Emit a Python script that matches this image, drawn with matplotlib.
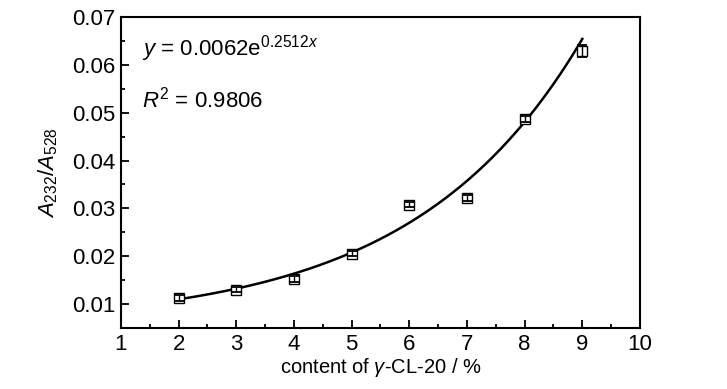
import numpy as np
import matplotlib
matplotlib.use("Agg")
import matplotlib.pyplot as plt
from matplotlib.ticker import MultipleLocator

FONT = 'Liberation Sans'
plt.rcParams['font.family'] = [FONT, 'DejaVu Sans']
plt.rcParams['mathtext.fontset'] = 'custom'
plt.rcParams['mathtext.rm'] = FONT
plt.rcParams['mathtext.it'] = FONT + ':italic'
plt.rcParams['mathtext.bf'] = FONT + ':bold'

# data
content = [2, 3, 4, 5, 6, 7, 8, 9]
ratio = [0.0113, 0.0130, 0.0153, 0.0205, 0.0308, 0.0322, 0.0487, 0.0629]
ratio_err = [0.0006, 0.0005, 0.0006, 0.0005, 0.0006, 0.0006, 0.0006, 0.0013]

# fitted curve parameters (as drawn)
fit_y0 = 0.00553
fit_A = 0.002758
fit_b = 0.342

fig = plt.figure(figsize=(7.27, 3.89), dpi=100)
ax = fig.add_axes([0.1664, 0.1568, 0.7139, 0.7995])

xf = np.linspace(min(content), max(content), 200)
ax.plot(xf, fit_y0 + fit_A * np.exp(fit_b * xf), color='black', lw=1.8, zorder=2)

ax.plot(content, ratio, 's', ms=7, mfc='white', mec='black', mew=1.0, zorder=3)
ax.errorbar(content, ratio, yerr=ratio_err, fmt='none', ecolor='black',
            elinewidth=1.0, capsize=3.5, capthick=1.3, zorder=4)

ax.set_xlim(1, 10)
ax.set_ylim(0.005, 0.07)
ax.xaxis.set_major_locator(MultipleLocator(1))
ax.xaxis.set_minor_locator(MultipleLocator(0.5))
ax.yaxis.set_minor_locator(MultipleLocator(0.005))
ax.set_yticks([0.01, 0.02, 0.03, 0.04, 0.05, 0.06, 0.07])
ax.set_yticklabels(['0.01', '0.02', '0.03', '0.04', '0.05', '0.06', '0.07'])

ax.tick_params(which='both', direction='in', top=False, right=False, labelsize=16, width=1.3, pad=4)
ax.tick_params(which='major', length=6)
ax.tick_params(which='minor', length=3)
for s in ax.spines.values():
    s.set_linewidth(1.5)

ax.set_xlabel(r'content of $\mathit{\gamma}$-CL-20 / %', fontsize=14.5, labelpad=1)
ax.set_ylabel(r'$\mathit{A}_{232}/\mathit{A}_{528}$', fontsize=16, labelpad=9)

ax.text(0.04, 0.875, r'$\mathit{y}$ = 0.0062e$^{0.2512\mathit{x}}$', transform=ax.transAxes,
        fontsize=16, ha='left', va='baseline')
ax.text(0.04, 0.71, r'$\mathit{R}^2$ = 0.9806', transform=ax.transAxes,
        fontsize=16, ha='left', va='baseline')

fig.savefig('out.png', dpi=100)
